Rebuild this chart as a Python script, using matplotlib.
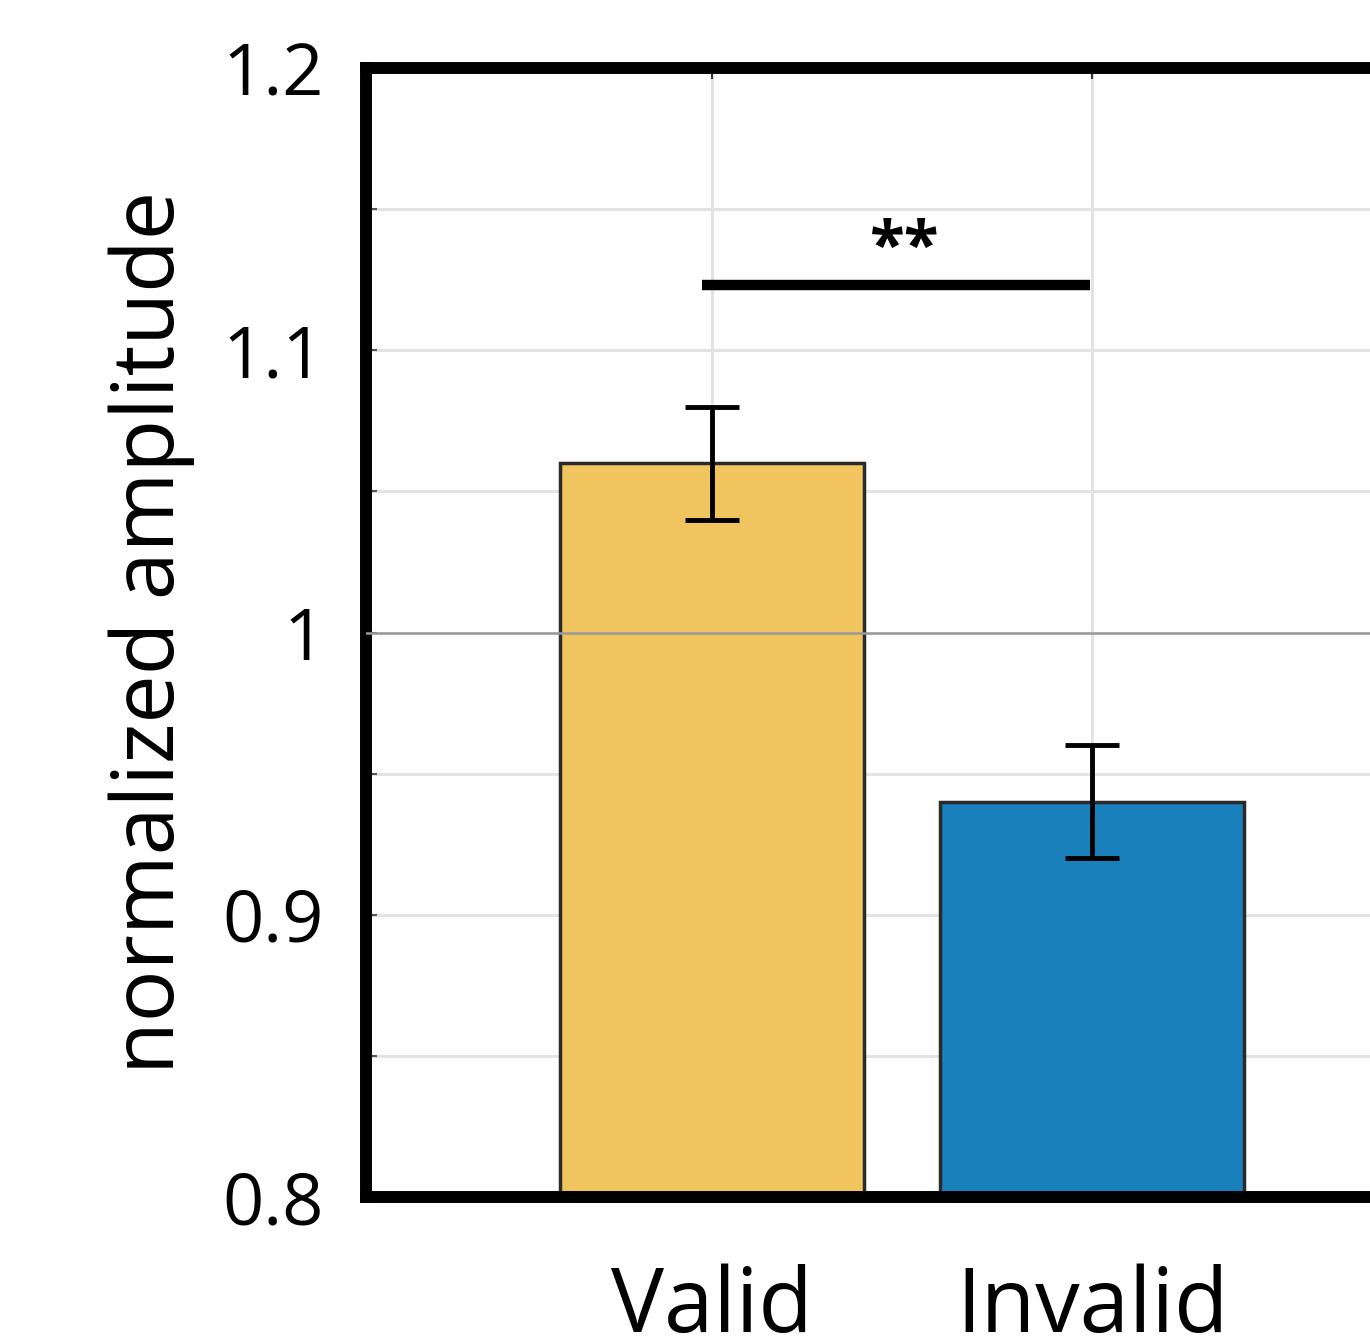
import matplotlib
matplotlib.use("Agg")
import matplotlib.pyplot as plt
import numpy as np

categories = ["Valid", "Invalid"]
means = [1.06, 0.94]
err_low = [1.04, 0.92]
err_high = [1.08, 0.96]
colors = ["#F0C45F", "#1A80BB"]
yticks = [0.8, 0.85, 0.9, 0.95, 1.0, 1.05, 1.1, 1.15, 1.2]
yticklabels = ["0.8", "", "0.9", "", "1", "", "1.1", "", "1.2"]
sig_y = 1.123
sig_x = [0.975, 1.995]
sig_label = "**"

plt.rcParams['font.family'] = ['Open Sans', 'DejaVu Sans']

fig = plt.figure(figsize=(13.7, 13.41), dpi=100)
ax = fig.add_axes([366/1370, 144/1341, 1072/1370, 1129/1341])

x = np.arange(1, len(categories) + 1)
yerr = np.array([[m - l for m, l in zip(means, err_low)],
                 [h - m for m, h in zip(means, err_high)]])
ax.bar(x, np.array(means) - 0.8, bottom=0.8, width=0.8, color=colors,
       edgecolor="#2a2a2a", linewidth=2.5, zorder=2)
ax.axhline(1.0, color="#999999", linewidth=1.8, zorder=3)
ax.errorbar(x, means, yerr=yerr, fmt="none", ecolor="black",
            elinewidth=3.5, capsize=19.5, capthick=3.5, zorder=4)

ax.plot(sig_x, [sig_y, sig_y], color="black", linewidth=7.5,
        solid_capstyle="butt", zorder=5)
ax.text(np.mean(sig_x) + 0.02, sig_y + 0.001, sig_label, ha="center", va="bottom",
        fontsize=46, fontweight="bold", color="black")

ax.set_xlim(0.09, 2.91)
ax.set_ylim(0.8, 1.2)
ax.set_yticks(yticks)
ax.set_yticklabels(yticklabels)
ax.set_xticks(x)
ax.set_xticklabels(categories)

ax.grid(True, color="#e3e3e3", linewidth=2.2, zorder=0)
ax.set_axisbelow(True)

for s in ax.spines.values():
    s.set_linewidth(8.6)
    s.set_color("black")

ax.tick_params(axis="y", direction="in", length=8, width=1.5, color="#555555",
               labelsize=52, pad=30, right=False)
ax.tick_params(axis="x", direction="in", length=8, width=1.5, color="#333333",
               labelsize=64, pad=48, top=True)

ax.set_ylabel("normalized amplitude", fontsize=62, labelpad=20)

fig.savefig("out.png", dpi=100)
